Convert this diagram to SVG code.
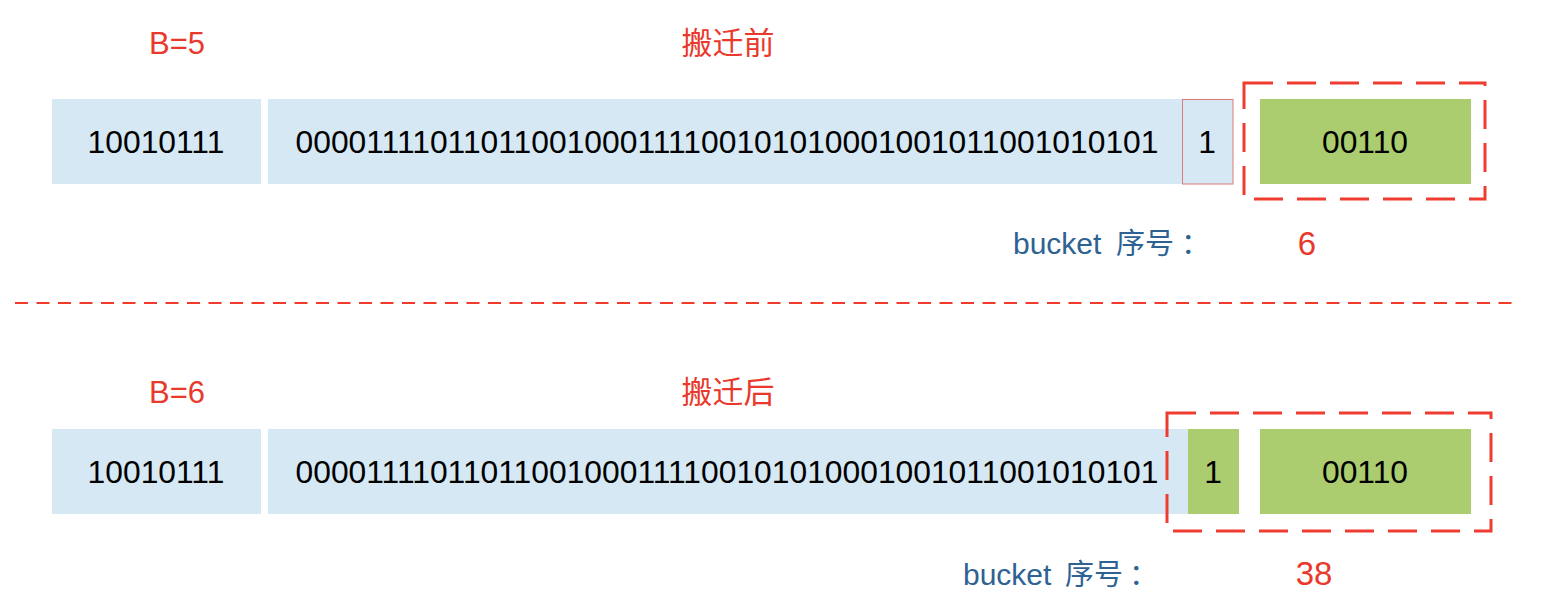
<svg xmlns="http://www.w3.org/2000/svg" width="1552" height="616" viewBox="0 0 1552 616">
<style>
.blue{fill:#d5e8f3}
.green{fill:#abcc6f}
.bits{font-family:"Liberation Sans",Arial,"Noto Sans CJK SC",sans-serif;font-size:31.8px;fill:#000;text-anchor:middle}
.red{font-family:"Liberation Sans",Arial,"Noto Sans CJK SC",sans-serif;font-size:30px;fill:#e8392c}
.num{font-size:33px}
.lbl{font-family:"Liberation Sans",Arial,"Noto Sans CJK SC",sans-serif;font-size:30px;fill:#2e6292}
.cjk{font-family:"Noto Sans CJK SC","Liberation Sans",sans-serif;font-size:29px}
.sel{fill:none;stroke:#ee3d30;stroke-width:3;stroke-dasharray:29 14}
</style>
<rect width="1552" height="616" fill="#fff"/>

<g id="titles">
<text class="red" x="177" y="54" text-anchor="middle" style="font-size:31px">B=5</text>
<text class="red cjk" x="728" y="54" text-anchor="middle" style="font-size:31px">搬迁前</text>
<text class="red" x="177" y="403" text-anchor="middle" style="font-size:31px">B=6</text>
<text class="red cjk" x="728" y="403" text-anchor="middle" style="font-size:31px">搬迁后</text>
</g>

<g id="before-row">
<g id="before-top">
<rect class="blue" x="52" y="99" width="209" height="85"/>
<text class="bits" x="156" y="153">10010111</text>
</g>
<g id="before-mid">
<rect class="blue" x="268" y="99" width="914" height="85"/>
<text class="bits" x="727" y="153">00001111011011001000111100101010001001011001010101</text>
</g>
<g id="before-bit">
<rect x="1182.5" y="99.5" width="50.5" height="84.5" fill="#d5e8f3" stroke="#e07a78" stroke-width="1"/>
<text class="bits" x="1207" y="153">1</text>
</g>
<g id="before-low">
<rect class="green" x="1260" y="99" width="211" height="85"/>
<text class="bits" x="1365" y="153">00110</text>
</g>
<rect id="before-select" class="sel" x="1244" y="83" width="241" height="116"/>
<g id="before-bucket">
<text class="lbl" x="1013" y="254">bucket <tspan class="cjk" x="1116">序号</tspan><tspan class="cjk" x="1181">：</tspan></text>
<text class="red num" x="1307" y="255" text-anchor="middle">6</text>
</g>
</g>

<g id="connectors">
<line x1="15" y1="303" x2="1512" y2="303" stroke="#f03a2c" stroke-width="1.8" stroke-dasharray="13 8.5"/>
</g>

<g id="after-row">
<g id="after-top">
<rect class="blue" x="52" y="429" width="209" height="85"/>
<text class="bits" x="156" y="483">10010111</text>
</g>
<g id="after-mid">
<rect class="blue" x="268" y="429" width="920" height="85"/>
<text class="bits" x="727" y="483">00001111011011001000111100101010001001011001010101</text>
</g>
<g id="after-bit">
<rect class="green" x="1188" y="429" width="51" height="85"/>
<text class="bits" x="1213" y="483">1</text>
</g>
<g id="after-low">
<rect class="green" x="1260" y="429" width="211" height="85"/>
<text class="bits" x="1365" y="483">00110</text>
</g>
<rect id="after-select" class="sel" x="1167" y="413" width="324" height="118"/>
<g id="after-bucket">
<text class="lbl" x="963" y="585">bucket <tspan class="cjk" x="1065">序号</tspan><tspan class="cjk" x="1129">：</tspan></text>
<text class="red num" x="1314" y="585" text-anchor="middle">38</text>
</g>
</g>
</svg>
